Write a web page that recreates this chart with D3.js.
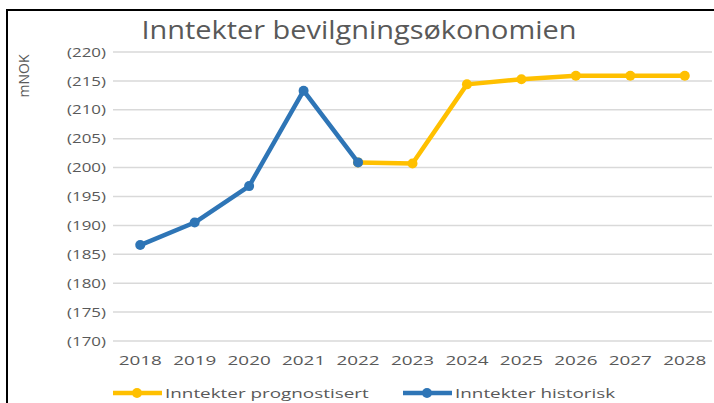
<!DOCTYPE html>
<html>
<head>
<meta charset="utf-8">
<script src="https://cdn.jsdelivr.net/npm/d3@7"></script>
<style>
  body { margin: 0; background: #fff; }
  text { font-family: "Open Sans", "Noto Sans", sans-serif; fill: #595959; }
</style>
</head>
<body>
<svg id="graph"></svg>
<script>
// data
var years = ["2018","2019","2020","2021","2022","2023","2024","2025","2026","2027","2028"];
var historisk = [186.6, 190.5, 196.8, 213.3, 200.9];            // 2018-2022
var prognose = [200.9, 200.7, 214.4, 215.3, 215.9, 215.9, 215.9]; // 2022-2028
var yTicks = [170, 175, 180, 185, 190, 195, 200, 205, 210, 215, 220];
var yTickLabels = ["(170)","(175)","(180)","(185)","(190)","(195)","(200)","(205)","(210)","(215)","(220)"];

var svg = d3.select("#graph")
  .attr("width", 714)
  .attr("height", 403)

var blue = "#2e75b6", yellow = "#ffc000";

// the picture is a pasted chart, stretched sideways - widen the glyphs the same way
function stretch(sel, k) {
  sel.each(function() {
    var w = this.getComputedTextLength();
    d3.select(this).attr("textLength", w * k).attr("lengthAdjust", "spacingAndGlyphs");
  });
}

// frame
svg.append("rect")
  .attr("x", 7).attr("y", 10)
  .attr("width", 760).attr("height", 450)
  .attr("fill", "none")
  .attr("stroke", "#000")
  .attr("stroke-width", 2)

var title = svg.append("text")
  .attr("x", 359).attr("y", 39)
  .attr("text-anchor", "middle")
  .style("font-size", "25px")
  .text("Inntekter bevilgningsøkonomien")
title.attr("textLength", 435).attr("lengthAdjust", "spacingAndGlyphs")

svg.append("text")
  .attr("transform", "translate(29,76) rotate(-90)")
  .attr("text-anchor", "middle")
  .style("font-size", "14px")
  .text("mNOK")

var x = d3.scaleBand().domain(years).range([113, 712]);
var y = d3.scaleLinear().domain([170, 220]).range([341, 52]);

// gridlines
svg.append("g")
  .selectAll("line")
  .data(yTicks)
  .enter().append("line")
  .attr("x1", 113).attr("x2", 712)
  .attr("y1", function(d) { return y(d); })
  .attr("y2", function(d) { return y(d); })
  .attr("stroke", "#d9d9d9")
  .attr("stroke-width", 1.5)

// y axis labels
var yAxis = svg.append("g")
  .attr("transform", "translate(106,0)")
  .call(d3.axisLeft(y).tickValues(yTicks).tickSize(0).tickPadding(0)
    .tickFormat(function(d, i) { return yTickLabels[i]; }))
yAxis.select(".domain").remove()
yAxis.selectAll("text").style("font-size", "13px").attr("fill", "#595959")
stretch(yAxis.selectAll("text"), 1.3)

// x axis labels
var xAxis = svg.append("g")
  .attr("transform", "translate(0,356)")
  .call(d3.axisBottom(x).tickSize(0).tickPadding(0))
xAxis.select(".domain").remove()
xAxis.selectAll("text").style("font-size", "13px").attr("fill", "#595959")
stretch(xAxis.selectAll("text"), 1.45)

function cx(i, offset) { return x(years[i + offset]) + x.bandwidth() / 2; }

var line = d3.line()
  .x(function(d) { return d.x; })
  .y(function(d) { return y(d.v); })

var progPts = prognose.map(function(v, i) { return {x: cx(i, 4), v: v}; });
var histPts = historisk.map(function(v, i) { return {x: cx(i, 0), v: v}; });

function drawSeries(pts, color) {
  svg.append("path")
    .datum(pts)
    .attr("d", line)
    .attr("fill", "none")
    .attr("stroke", color)
    .attr("stroke-width", 4.5)
    .attr("stroke-linejoin", "round")
  svg.append("g")
    .selectAll("circle")
    .data(pts)
    .enter().append("circle")
    .attr("cx", function(d) { return d.x; })
    .attr("cy", function(d) { return y(d.v); })
    .attr("r", 5)
    .attr("fill", color)
}
drawSeries(progPts, yellow)
drawSeries(histPts, blue)

// legend
var legend = [
  {name: "Inntekter prognostisert", color: yellow, x: 113},
  {name: "Inntekter historisk", color: blue, x: 403}
];
var lg = svg.append("g").selectAll("g")
  .data(legend)
  .enter().append("g")
  .attr("transform", function(d) { return "translate(" + d.x + ",393)"; })
lg.append("line")
  .attr("x1", 0).attr("x2", 49)
  .attr("stroke", function(d) { return d.color; })
  .attr("stroke-width", 4.5)
lg.append("circle")
  .attr("cx", 24).attr("r", 5)
  .attr("fill", function(d) { return d.color; })
var lt = lg.append("text")
  .attr("x", 52).attr("y", 5)
  .style("font-size", "13px")
  .text(function(d) { return d.name; })
stretch(lt, 1.45)
</script>
</body>
</html>
